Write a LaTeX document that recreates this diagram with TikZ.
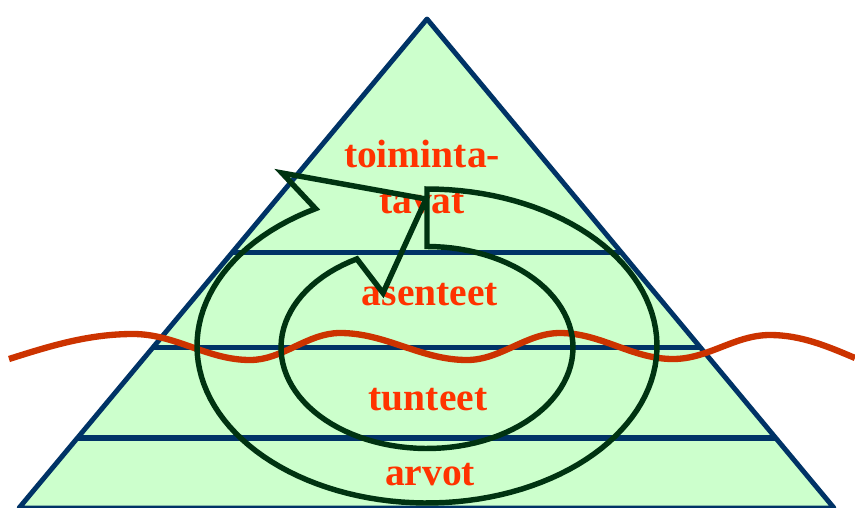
\documentclass[tikz,border=0pt]{standalone}
\usepackage{fontspec}
\setmainfont{Liberation Serif}
\usetikzlibrary{calc}

\definecolor{pyrfill}{RGB}{204,255,204}
\definecolor{pyrline}{RGB}{0,51,102}
\definecolor{spiralgreen}{RGB}{0,51,17}
\definecolor{labelred}{RGB}{255,51,0}
\definecolor{wavered}{RGB}{204,51,0}

\begin{document}
\begin{tikzpicture}[
    x=0.02cm, y=-0.02cm,
    pyramid/.style={draw=pyrline, line width=2.8pt, line join=round, fill=pyrfill},
    layer/.style={draw=pyrline, line width=3.1pt},
    level/.style={font=\fontsize{22.5}{26}\selectfont\bfseries, text=labelred, anchor=base, inner sep=0pt},
    wave/.style={draw=wavered, line width=3.6pt},
    spiral/.style={draw=spiralgreen, line width=3.1pt},
]
\useasboundingbox (0,0) rectangle (855,507);

% =============================================================================
% Pyramid
% =============================================================================
\coordinate (apex) at (427,19);
\coordinate (bl) at (19,508);
\coordinate (br) at (834,508);
\draw[pyramid] (apex) -- (br) -- (bl) -- cycle;

% Layer borders
\foreach \t in {0.4775, 0.6718, 0.8569}
    \draw[layer] ($(apex)!\t!(bl)$) -- ($(apex)!\t!(br)$);

% =============================================================================
% Wave line
% =============================================================================
\draw[wave] (9,359) sin (133,334) cos (191.5,347) sin (250,360)
    cos (295,346.5) sin (340,333) cos (403.5,346.5) sin (467,360)
    cos (513.5,346.5) sin (560,333) cos (616.5,346) sin (673,359)
    cos (721.5,347) sin (770,335) cos (855,358);

% =============================================================================
% Labels
% =============================================================================
\node[level] (toim) at (422,167) {toiminta-};
\node[level] (tavat) at (422,213) {tavat};
\node[level] (asen) at (430,305) {asenteet};
\node[level] (tunt) at (428,410) {tunteet};
\node[level] (arvot) at (430,485) {arvot};

% =============================================================================
% Spiral arrow
% =============================================================================
\draw[spiral]
    plot[domain=-90:241, samples=120] ({427+230*cos(\x)}, {346+157*sin(\x)})
    -- (282,173) -- (426,199) -- (383,293)
    -- plot[domain=241.3:-90, samples=100] ({427+146*cos(\x)}, {347.5+101*sin(\x)})
    -- cycle;

\end{tikzpicture}
\end{document}
